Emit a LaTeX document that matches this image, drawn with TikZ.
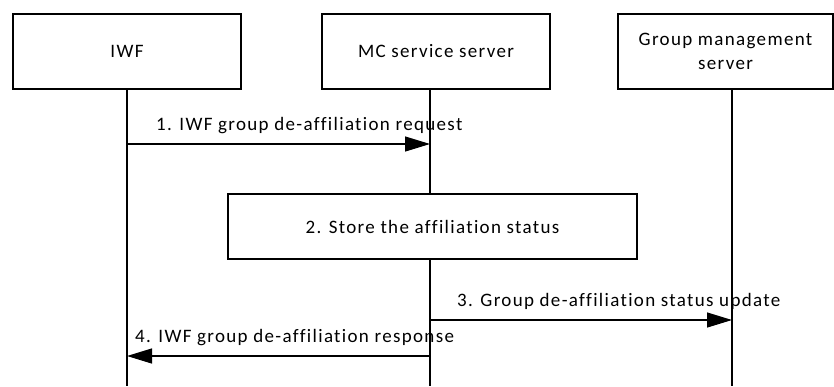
\documentclass[tikz,border=0pt]{standalone}
\usepackage{fontspec}
\setmainfont{Carlito}[LetterSpace=7,Ligatures=NoCommon]
\usetikzlibrary{arrows.meta}
\begin{document}
\begin{tikzpicture}[x=1pt,y=-1pt,
  every node/.style={font=\fontsize{19}{24}\selectfont},
  entity/.style={draw,line width=1.2pt,minimum height=75pt,inner sep=0pt,align=center},
  msg/.style={line width=1.2pt,-{Triangle[length=25pt,width=15pt]}},
  life/.style={line width=1.2pt},
  lbl/.style={anchor=base west,inner sep=0pt}]
\useasboundingbox (0,0) rectangle (834,386);
\node[entity,minimum width=228pt] (iwf) at (127,51.5) {IWF};
\node[entity,minimum width=228pt] (mc) at (436,51.5) {MC service server};
\node[entity,minimum width=215pt] (gms) at (725.5,51.5) {Group management\\server};
\node[entity,minimum width=409pt,minimum height=65pt] (store) at (432.5,226.5) {2. Store the affiliation status};
\coordinate (iwfEnd) at (127,386);
\coordinate (mcEnd) at (430,386);
\coordinate (gmsEnd) at (732,386);
\coordinate (mcTop) at (430,89);
\coordinate (gmsTop) at (732,89);
\coordinate (iwfTop) at (127,89);
\draw[life] (iwfTop) -- (iwfEnd);
\draw[life] (mcTop) -- (mcTop |- store.north);
\draw[life] (mcTop |- store.south) -- (mcEnd);
\draw[life] (gmsTop) -- (gmsEnd);
\coordinate (a1s) at (127,144);
\coordinate (a1e) at (430,144);
\coordinate (a3s) at (430,320);
\coordinate (a3e) at (732,320);
\coordinate (a4s) at (430,356);
\coordinate (a4e) at (127,356);
\draw[msg] (a1s) -- (a1e);
\draw[msg] (a3s) -- (a3e);
\draw[msg] (a4s) -- (a4e);
\node[lbl] (l1) at (156,130) {1. IWF group de-affiliation request};
\node[lbl] (l3) at (457,306) {3. Group de-affiliation status update};
\node[lbl] (l4) at (135,342) {4. IWF group de-affiliation response};
\end{tikzpicture}
\end{document}
